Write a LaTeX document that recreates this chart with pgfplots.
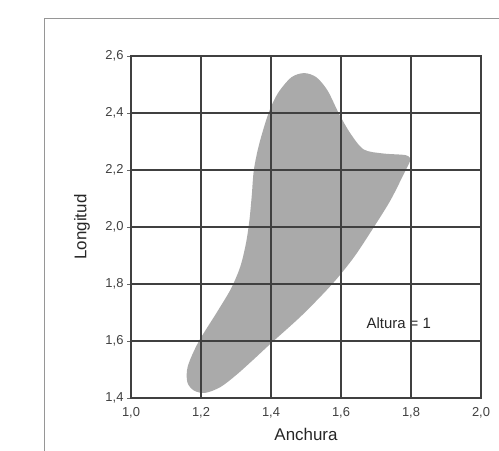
\documentclass[border=0pt]{standalone}
\usepackage{pgfplots}
\pgfplotsset{compat=1.18}
\usepackage{fontspec}
\setmainfont{Liberation Sans}
\definecolor{shapegray}{RGB}{170,170,170}
\definecolor{framegray}{RGB}{150,150,150}
\begin{document}
\begin{tikzpicture}[x=1bp,y=1bp]
\useasboundingbox (0,0) rectangle (499,451);
\draw[framegray, line width=1bp] (44.5,-10) |- (520,432.5);
\begin{axis}[
  at={(131bp,53bp)}, anchor=south west,
  scale only axis, width=350bp, height=342bp,
  xmin=1, xmax=2, ymin=1.4, ymax=2.6,
  xtick={1,1.2,1.4,1.6,1.8,2},
  ytick={1.4,1.6,1.8,2.0,2.2,2.4,2.6},
  grid=major,
  major grid style={black!75, line width=2bp},
  axis line style={black!75, line width=2bp},
  axis on top,
  tick align=outside,
  xtick pos=bottom, ytick pos=left,
  major tick length=4bp,
  xtick style={draw=none},
  ytick style={black!60, line width=0.6bp},
  /pgf/number format/.cd, use comma, fixed, fixed zerofill, precision=1, assume math mode=true,
  /pgfplots/.cd,
  tick label style={font=\fontsize{13}{13}\selectfont, text=black!75},
  xticklabel style={yshift=-2bp},
  xlabel={Anchura}, ylabel={Longitud},
  xlabel style={font=\fontsize{17}{17}\selectfont, text=black!85, at={(axis description cs:0.5,-0.107)}, anchor=center},
  ylabel style={font=\fontsize{17}{17}\selectfont, text=black!85, at={(axis description cs:-0.14,0.5)}, anchor=center},
]
\addplot[fill=shapegray, draw=none, smooth] coordinates {
(1.800,2.237)
(1.785,2.200)
(1.742,2.095)
(1.694,2.000)
(1.637,1.894)
(1.575,1.800)
(1.490,1.692)
(1.400,1.592)
(1.350,1.535)
(1.300,1.480)
(1.255,1.438)
(1.212,1.418)
(1.180,1.426)
(1.161,1.455)
(1.162,1.510)
(1.192,1.595)
(1.245,1.700)
(1.285,1.782)
(1.312,1.860)
(1.328,1.940)
(1.338,2.020)
(1.345,2.110)
(1.351,2.200)
(1.366,2.290)
(1.393,2.400)
(1.420,2.470)
(1.458,2.525)
(1.495,2.540)
(1.530,2.525)
(1.562,2.478)
(1.594,2.398)
(1.627,2.328)
(1.665,2.272)
(1.720,2.258)
(1.785,2.252)
(1.800,2.237)
} -- cycle;
\node[font=\fontsize{15}{15}\selectfont, text=black!85] at (axis cs:1.765,1.662) {Altura = 1};
\end{axis}
\end{tikzpicture}
\end{document}
